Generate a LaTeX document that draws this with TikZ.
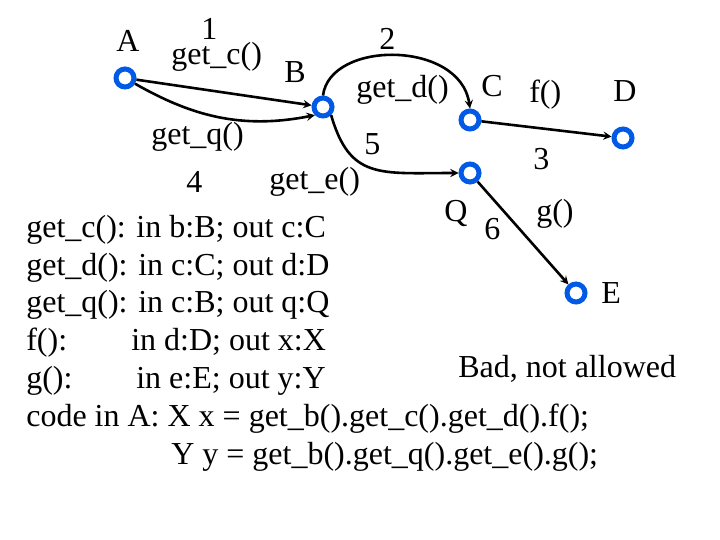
\documentclass[tikz,border=0pt]{standalone}
\usepackage{fontspec}
\setmainfont{Liberation Serif}
\begin{document}
\begin{tikzpicture}[x=1pt,y=-1pt,font=\fontsize{32}{36}\selectfont,
    obj/.style={circle,draw={rgb,255:red,0;green,90;blue,230},fill=white,line width=5pt,inner sep=0pt,minimum size=18pt},
    lbl/.style={inner sep=0pt,anchor=base west},
    every path/.style={line width=2.6pt,>=stealth}]
    \useasboundingbox (0,0) rectangle (720,540);
    \node(a)[obj] at (125,78) {};
    \node(b)[obj] at (323,107) {};
    \node(c)[obj] at (470,120) {};
    \node(d)[obj] at (623,138) {};
    \node(q)[obj] at (470,173) {};
    \node(e)[obj] at (576,293) {};

    \draw[->] (a) -- (b);
    \draw[->] (a) .. controls (190,115) and (240,130) .. (b.south west);
    \draw[->] (b.north) .. controls (330,40) and (460,40) .. (c.north);
    \draw[->] (b.south east) .. controls (350,180) and (380,173) .. (q.west);
    \draw[->] (c) -- (d);
    \draw[->] (q) -- (e);

    \node[lbl] at (115,52) {A};
    \node[lbl] at (200,40) {1};
    \node[lbl] at (170,65) {get\_c()};
    \node[lbl] at (283,83) {B};
    \node[lbl] at (378,50) {2};
    \node[lbl] at (355,98) {get\_d()};
    \node[lbl] at (480,97) {C};
    \node[lbl] at (528,103) {f()};
    \node[lbl] at (612,102) {D};
    \node[lbl] at (150,145) {get\_q()};
    \node[lbl] at (363,155) {5};
    \node[lbl] at (532,170) {3};
    \node[lbl] at (185,193) {4};
    \node[lbl] at (268,190) {get\_e()};
    \node[lbl] at (443,222) {Q};
    \node[lbl] at (483,240) {6};
    \node[lbl] at (535,222) {g()};
    \node[lbl] at (600,303) {E};
    \node[lbl] at (25,237) {get\_c(): in b:B; out c:C};
    \node[lbl] at (25,275) {get\_d(): in c:C; out d:D};
    \node[lbl] at (25,312) {get\_q(): in c:B; out q:Q};
    \node[lbl] at (25,350) {f():};
    \node[lbl] at (130,350) {in d:D; out x:X};
    \node[lbl] at (25,388) {g():};
    \node[lbl] at (135,388) {in e:E; out y:Y};
    \node[lbl] at (457,377) {Bad, not allowed};
    \node[lbl] at (25,426) {code in A: X x = get\_b().get\_c().get\_d().f();};
    \node[lbl] at (170,464) {Y y = get\_b().get\_q().get\_e().g();};
\end{tikzpicture}
\end{document}
